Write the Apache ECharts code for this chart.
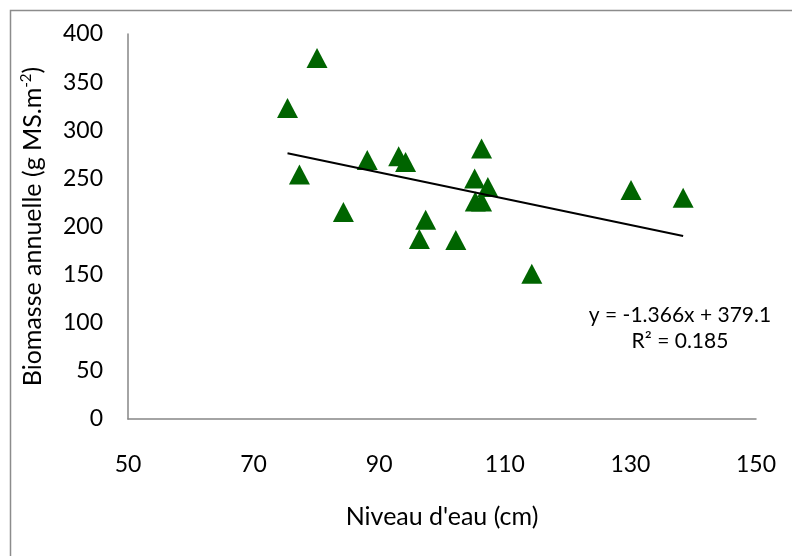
<!DOCTYPE html>
<html>
<head>
<meta charset="utf-8">
<script src="https://cdn.jsdelivr.net/npm/echarts@6/dist/echarts.min.js"></script>
<style>
  html, body { margin: 0; padding: 0; background: #fff; }
  #chart { width: 792px; height: 556px; }
</style>
</head>
<body>
<div id="chart"></div>
<script>
// niveau d'eau (cm) et biomasse annuelle (g MS.m-2)
const niveauEau = [75.4, 80.1, 77.3, 84.3, 88.1, 93.1, 94.2, 106.3, 105.2, 107.3, 105.3, 106.3, 97.4, 96.4, 102.2, 114.3, 130.1, 138.4];
const biomasse = [323, 375, 254, 215, 269, 273, 267, 281, 250, 241, 226, 226, 207, 187, 186, 151, 238, 230];

// droite de tendance publiee
const pente = -1.366;
const ordonnee = 379.1;
const equation = ["y = -1.366x + 379.1", "R² = 0.185"];

function dessiner() {
  const chart = echarts.init(document.getElementById("chart"));
  const font = "Lato, 'Open Sans', sans-serif";

  const points = niveauEau.map((x, i) => [x, biomasse[i]]);
  const xMin = Math.min(...niveauEau);
  const xMax = Math.max(...niveauEau);
  const tendance = [[xMin, pente * xMin + ordonnee], [xMax, pente * xMax + ordonnee]];

  const axe = { lineStyle: { color: "#868686", width: 1.5 } };

  chart.setOption({
    animation: false,
    backgroundColor: "#fff",
    grid: { left: 128, right: 36, top: 34, bottom: 137 },
    xAxis: {
      type: "value",
      min: 50, max: 150, interval: 20,
      axisLine: axe,
      axisTick: { show: false },
      splitLine: { show: false },
      axisLabel: { color: "#000", fontFamily: font, fontSize: 23, margin: 34 },
      name: "Niveau d'eau (cm)",
      nameLocation: "middle",
      nameGap: 85,
      nameTextStyle: { color: "#000", fontFamily: font, fontSize: 25 }
    },
    yAxis: {
      type: "value",
      min: 0, max: 400, interval: 50,
      axisLine: { show: true, lineStyle: axe.lineStyle },
      axisTick: { show: false },
      splitLine: { show: false },
      axisLabel: { color: "#000", fontFamily: font, fontSize: 23, margin: 25 },
      name: "{a|Biomasse annuelle (g MS.m}{s|-2}{a|)}",
      nameLocation: "middle",
      nameGap: 82,
      nameTextStyle: {
        rich: {
          a: { color: "#000", fontFamily: font, fontSize: 25 },
          s: { color: "#000", fontFamily: font, fontSize: 15, padding: [0, 0, 12, 0] }
        }
      }
    },
    series: [
      {
        type: "scatter",
        data: points,
        symbol: "triangle",
        symbolSize: [21, 20],
        itemStyle: { color: "#006400", opacity: 1 },
        z: 2
      },
      {
        type: "line",
        data: tendance,
        symbol: "none",
        lineStyle: { color: "#000", width: 2 },
        z: 3
      }
    ],
    graphic: [
      {
        type: "rect",
        shape: { x: 10.5, y: 10.5, width: 800, height: 600 },
        style: { fill: "none", stroke: "#8c8c8c", lineWidth: 1.5 },
        silent: true
      },
      {
        type: "text",
        x: 680, y: 315,
        style: { text: equation[0], fill: "#000", font: "21px " + font, align: "center", verticalAlign: "middle" }
      },
      {
        type: "text",
        x: 680, y: 341,
        style: { text: equation[1], fill: "#000", font: "21px " + font, align: "center", verticalAlign: "middle" }
      }
    ]
  });
}

document.addEventListener("DOMContentLoaded", dessiner);
</script>
</body>
</html>
